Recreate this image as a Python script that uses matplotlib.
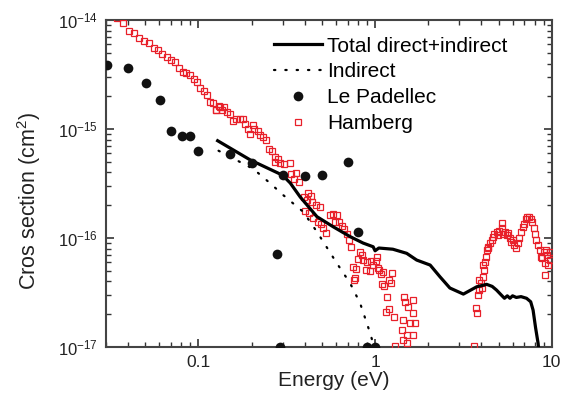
import matplotlib
matplotlib.use("Agg")
import matplotlib.pyplot as plt
from matplotlib.ticker import LogLocator, NullFormatter, FixedLocator

plt.rcParams['font.family'] = ['Liberation Sans', 'DejaVu Sans']
plt.rcParams['mathtext.fontset'] = 'custom'
plt.rcParams['mathtext.rm'] = 'Liberation Sans'
plt.rcParams['mathtext.it'] = 'Liberation Sans:italic'
plt.rcParams['mathtext.bf'] = 'Liberation Sans:bold'

# Total direct+indirect (theory)
total_e = [0.1285, 0.197, 0.299, 0.331, 0.377, 0.469, 0.579, 0.723, 0.855, 0.975, 1.0, 1.05,
           1.26, 1.51, 1.72, 2.05, 2.33, 2.65, 3.16, 3.76, 4.28, 4.6, 4.87, 5.2, 5.4, 5.6,
           5.8, 6.0, 6.3, 6.7, 7.2, 7.6, 7.84, 8.1, 8.37, 8.6]
total_s = [7.82e-16, 5.2e-16, 3.78e-16, 3.2e-16, 2.38e-16, 1.57e-16, 1.27e-16, 1.03e-16, 9.0e-17,
           8.32e-17, 7.64e-17, 8.1e-17, 7.9e-17, 7.24e-17, 6.28e-17, 5.65e-17, 4.41e-17, 3.48e-17,
           3.06e-17, 3.57e-17, 3.76e-17, 3.6e-17, 3.33e-17, 2.98e-17, 2.8e-17, 2.95e-17,
           2.8e-17, 2.95e-17, 2.85e-17, 2.9e-17, 2.8e-17, 2.6e-17, 2.18e-17, 1.5e-17, 1.08e-17, 7e-18]

# Indirect (theory)
indirect_e = [0.130, 0.205, 0.255, 0.302, 0.392, 0.469, 0.608, 0.723, 0.823, 0.938, 1.0]
indirect_s = [6.33e-16, 4.3e-16, 3.18e-16, 2.48e-16, 1.74e-16, 1.14e-16, 5.86e-17, 3.84e-17,
              2.52e-17, 1.34e-17, 9.3e-18]

# Le Padellec (measurement)
padellec_e = [0.0305, 0.0401, 0.0502, 0.0603, 0.0703, 0.0805, 0.0902, 0.1, 0.150, 0.2, 0.30,
              0.40, 0.50, 0.70, 0.80, 0.28, 0.29, 0.9, 1.0]
padellec_s = [3.86e-15, 3.65e-15, 2.66e-15, 1.85e-15, 9.6e-16, 8.7e-16, 8.7e-16, 6.3e-16, 5.86e-16,
              4.88e-16, 3.83e-16, 3.71e-16, 3.8e-16, 4.94e-16, 1.14e-16, 7.08e-17, 1.0e-17,
              1.0e-17, 1.0e-17]

# Hamberg (measurement)
hamberg_e = [0.0344, 0.0376, 0.0404, 0.0431, 0.0462, 0.0491, 0.0524, 0.0559, 0.0592, 0.0626,
             0.0662, 0.0698, 0.0734, 0.0774, 0.0820, 0.0855, 0.0893, 0.0940, 0.0983, 0.1017,
             0.1071, 0.1120, 0.1158, 0.1211, 0.1264, 0.1302, 0.1252, 0.1319, 0.1390, 0.1361,
             0.1452, 0.1516, 0.1570, 0.1639, 0.1727, 0.1788, 0.1843, 0.1909, 0.2037, 0.2053,
             0.1967, 0.2175, 0.2241, 0.2319, 0.2399, 0.2495, 0.2608, 0.2698, 0.2820, 0.2698,
             0.2879, 0.3061, 0.3280, 0.3351, 0.3579, 0.3487, 0.3721, 0.4145, 0.3935, 0.4113,
             0.4350, 0.4422, 0.4642, 0.4889, 0.3987, 0.4254, 0.4480, 0.4747, 0.4955, 0.5063,
             0.5287, 0.5568, 0.5768, 0.6076, 0.5943, 0.6286, 0.6484, 0.6682, 0.6973, 0.7158,
             0.7290, 0.8229, 0.8411, 0.8590, 0.7985, 0.9048, 0.9493, 1.022, 1.013, 0.978,
             0.8896, 0.9371, 0.7541, 0.7811, 1.036, 1.057, 1.114, 1.243, 1.077, 1.200,
             1.227, 0.7709, 0.7640, 1.095, 1.128, 1.164, 1.200, 1.154, 1.280, 1.297,
             1.458, 1.477, 1.646, 1.542, 1.646, 1.445, 1.577, 1.683, 1.415, 1.511,
             1.633, 1.445, 1.511,
             3.64, 3.755, 3.72, 3.834, 3.885, 3.885, 3.956, 4.008, 4.06, 4.13,
             4.093, 4.184, 4.222, 4.277, 4.333, 4.367, 4.464, 4.564, 4.624, 4.721,
             4.871, 4.973, 5.039, 5.198, 5.239, 5.308, 5.427, 5.548, 5.664, 5.791,
             5.867, 5.998, 6.124, 6.26, 6.40, 6.535, 6.681, 6.830, 6.973, 7.129,
             7.289, 7.443, 7.609, 7.78, 7.912, 8.017, 8.196, 8.368, 8.555, 8.668,
             8.861, 9.013, 9.25, 9.41, 9.21, 9.13, 9.53, 9.74, 9.83]
hamberg_s = [1.05e-14, 9.33e-15, 7.98e-15, 7.64e-15, 6.79e-15, 6.46e-15, 6.11e-15, 5.57e-15, 5.27e-15, 4.91e-15,
             4.55e-15, 4.30e-15, 4.09e-15, 3.60e-15, 3.36e-15, 3.28e-15, 3.13e-15, 2.88e-15, 2.72e-15, 2.36e-15,
             2.26e-15, 2.04e-15, 1.78e-15, 1.72e-15, 1.50e-15, 1.63e-15, 1.49e-15, 1.60e-15, 1.58e-15, 1.49e-15,
             1.44e-15, 1.39e-15, 1.19e-15, 1.25e-15, 1.23e-15, 1.25e-15, 1.11e-15, 1.01e-15, 1.10e-15, 9.94e-16,
             8.99e-16, 9.65e-16, 8.87e-16, 8.40e-16, 7.88e-16, 6.55e-16, 6.28e-16, 5.50e-16, 5.31e-16, 4.98e-16,
             4.84e-16, 4.75e-16, 4.91e-16, 3.86e-16, 3.97e-16, 3.45e-16, 3.28e-16, 2.57e-16, 2.39e-16, 2.23e-16,
             2.44e-16, 2.15e-16, 2.01e-16, 1.94e-16, 1.78e-16, 1.71e-16, 1.52e-16, 1.39e-16, 1.34e-16, 1.23e-16,
             1.12e-16, 1.63e-16, 1.68e-16, 1.63e-16, 1.41e-16, 1.39e-16, 1.30e-16, 1.20e-16, 1.10e-16, 9.59e-17,
             8.22e-17, 7.49e-17, 6.98e-17, 6.28e-17, 6.41e-17, 6.06e-17, 6.15e-17, 6.73e-17, 6.15e-17, 5.65e-17,
             5.09e-17, 5.01e-17, 5.38e-17, 5.16e-17, 5.34e-17, 5.09e-17, 4.91e-17, 4.74e-17, 4.64e-17, 4.12e-17,
             3.89e-17, 4.27e-17, 4.12e-17, 3.79e-17, 3.65e-17, 2.89e-17, 2.22e-17, 2.08e-17, 1.90e-17, 1.02e-17,
             2.89e-17, 2.61e-17, 2.70e-17, 2.31e-17, 2.04e-17, 1.77e-17, 1.65e-17, 1.65e-17, 1.43e-17, 1.29e-17,
             1.29e-17, 1.16e-17, 1.08e-17,
             1.03e-17, 2.04e-17, 2.26e-17, 3.0e-17, 3.33e-17, 4.12e-17, 3.84e-17, 3.45e-17, 4.41e-17, 5.09e-17,
             5.65e-17, 6.06e-17, 6.73e-17, 7.76e-17, 8.04e-17, 8.32e-17, 8.94e-17, 9.59e-17, 1.03e-16, 1.10e-16,
             1.14e-16, 1.07e-16, 1.17e-16, 1.38e-16, 1.23e-16, 1.10e-16, 1.14e-16, 1.07e-16, 1.12e-16, 1.01e-16,
             9.25e-17, 9.59e-17, 8.63e-17, 8.04e-17, 8.94e-17, 1.01e-16, 1.14e-16, 1.27e-16, 1.36e-16, 1.49e-16,
             1.55e-16, 1.57e-16, 1.49e-16, 1.41e-16, 1.23e-16, 1.10e-16, 9.59e-17, 8.63e-17, 7.76e-17, 6.73e-17,
             6.51e-17, 7.49e-17, 7.76e-17, 6.98e-17, 5.86e-17, 4.58e-17, 5.65e-17, 7.49e-17, 6.28e-17]

x_ticks = [0.1, 1, 10]
x_ticklabels = ['0.1', '1', '10']
y_ticks = [1e-17, 1e-16, 1e-15, 1e-14]
y_ticklabels = ['$10^{-17}$', '$10^{-16}$', '$10^{-15}$', '$10^{-14}$']

fig = plt.figure(figsize=(5.70, 3.95), dpi=100)
ax = fig.add_axes([0.186, 0.1215, 0.782, 0.8275])

ax.plot(total_e, total_s, color='black', lw=2.3, label='Total direct+indirect', zorder=4)
ax.plot(indirect_e, indirect_s, color='black', lw=1.6, linestyle=(0, (0.6, 4.5)),
        dash_capstyle='round', label='Indirect', zorder=4)
ax.plot(padellec_e, padellec_s, 'o', color='#111111', ms=7, mew=0, label='Le Padellec', zorder=5)
ax.plot(hamberg_e, hamberg_s, 's', mfc='none', mec='#e8202a', ms=4.0, mew=0.9,
        label='Hamberg', zorder=3)

ax.set_xscale('log')
ax.set_yscale('log')
ax.set_xlim(0.03, 10)
ax.set_ylim(1e-17, 1e-14)

ax.xaxis.set_major_locator(FixedLocator(x_ticks))
ax.set_xticklabels(x_ticklabels)
ax.xaxis.set_minor_locator(LogLocator(base=10, subs=range(2, 10), numticks=20))
ax.xaxis.set_minor_formatter(NullFormatter())
ax.yaxis.set_major_locator(FixedLocator(y_ticks))
ax.set_yticklabels(y_ticklabels)
ax.yaxis.set_minor_locator(LogLocator(base=10, subs=range(2, 10), numticks=20))
ax.yaxis.set_minor_formatter(NullFormatter())

ax.tick_params(which='both', direction='in', top=True, right=True, colors='#333333',
               labelcolor='#222222')
ax.tick_params(which='major', length=6, width=1.2, pad=6)
ax.tick_params(axis='x', which='major', labelsize=12.5, pad=6)
ax.tick_params(axis='y', which='major', labelsize=12, pad=6)
ax.tick_params(which='minor', length=3.5, width=1.0)
for sp in ax.spines.values():
    sp.set_linewidth(1.5)
    sp.set_color('#444444')

ax.set_xlabel('Energy (eV)', fontsize=15, color='#222222')
ax.set_ylabel('Cros section (cm$^2$)', fontsize=15.5, color='#222222')
ax.xaxis.set_label_coords(0.512, -0.074)
ax.yaxis.set_label_coords(-0.141, 0.448)

leg = ax.legend(loc='upper left', frameon=False, fontsize=15, handlelength=2.3,
                handletextpad=0.25, labelspacing=0.33, borderaxespad=0, borderpad=0,
                bbox_to_anchor=(0.3767, 0.9496))

fig.savefig('out.png', dpi=100)
